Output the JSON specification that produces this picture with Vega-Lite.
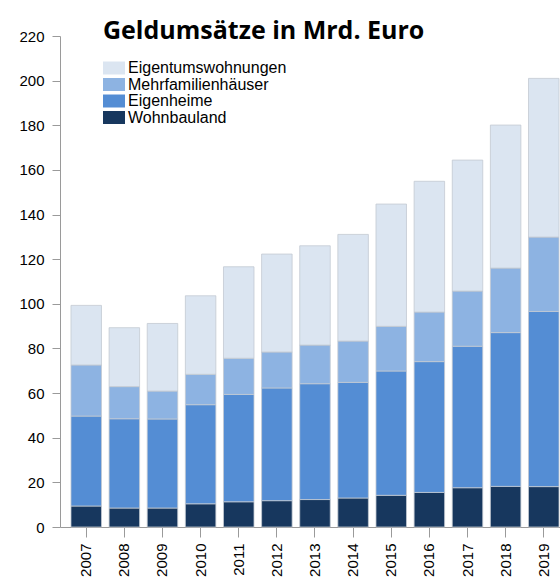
{
  "$schema": "https://vega.github.io/schema/vega-lite/v6.json",
  "width": 500,
  "height": 491,
  "autosize": {"type": "none"},
  "padding": {"left": 60, "top": 36, "right": 0, "bottom": 54},
  "background": "white",
  "title": {
    "text": "Geldumsätze in Mrd. Euro",
    "anchor": "start",
    "frame": "group",
    "orient": "top",
    "font": "Open Sans",
    "fontSize": 25,
    "fontWeight": "bold",
    "color": "black",
    "offset": 0,
    "baseline": "alphabetic",
    "dx": 43,
    "dy": 35
  },
  "datasets": {
    "serien": [
      {"type": "Wohnbauland", "rank": 1},
      {"type": "Eigenheime", "rank": 2},
      {"type": "Mehrfamilienhäuser", "rank": 3},
      {"type": "Eigentumswohnungen", "rank": 4}
    ]
  },
  "data": {
    "values": [
      {"year": "2007", "type": "Wohnbauland", "value": 9.4},
      {"year": "2007", "type": "Eigenheime", "value": 40.3},
      {"year": "2007", "type": "Mehrfamilienhäuser", "value": 22.9},
      {"year": "2007", "type": "Eigentumswohnungen", "value": 26.7},
      {"year": "2008", "type": "Wohnbauland", "value": 8.5},
      {"year": "2008", "type": "Eigenheime", "value": 40.0},
      {"year": "2008", "type": "Mehrfamilienhäuser", "value": 14.4},
      {"year": "2008", "type": "Eigentumswohnungen", "value": 26.4},
      {"year": "2009", "type": "Wohnbauland", "value": 8.5},
      {"year": "2009", "type": "Eigenheime", "value": 39.9},
      {"year": "2009", "type": "Mehrfamilienhäuser", "value": 12.5},
      {"year": "2009", "type": "Eigentumswohnungen", "value": 30.3},
      {"year": "2010", "type": "Wohnbauland", "value": 10.4},
      {"year": "2010", "type": "Eigenheime", "value": 44.4},
      {"year": "2010", "type": "Mehrfamilienhäuser", "value": 13.6},
      {"year": "2010", "type": "Eigentumswohnungen", "value": 35.2},
      {"year": "2011", "type": "Wohnbauland", "value": 11.3},
      {"year": "2011", "type": "Eigenheime", "value": 48.1},
      {"year": "2011", "type": "Mehrfamilienhäuser", "value": 16.2},
      {"year": "2011", "type": "Eigentumswohnungen", "value": 41.0},
      {"year": "2012", "type": "Wohnbauland", "value": 11.8},
      {"year": "2012", "type": "Eigenheime", "value": 50.5},
      {"year": "2012", "type": "Mehrfamilienhäuser", "value": 16.1},
      {"year": "2012", "type": "Eigentumswohnungen", "value": 43.9},
      {"year": "2013", "type": "Wohnbauland", "value": 12.3},
      {"year": "2013", "type": "Eigenheime", "value": 51.9},
      {"year": "2013", "type": "Mehrfamilienhäuser", "value": 17.3},
      {"year": "2013", "type": "Eigentumswohnungen", "value": 44.5},
      {"year": "2014", "type": "Wohnbauland", "value": 13.0},
      {"year": "2014", "type": "Eigenheime", "value": 51.8},
      {"year": "2014", "type": "Mehrfamilienhäuser", "value": 18.5},
      {"year": "2014", "type": "Eigentumswohnungen", "value": 47.8},
      {"year": "2015", "type": "Wohnbauland", "value": 14.2},
      {"year": "2015", "type": "Eigenheime", "value": 55.7},
      {"year": "2015", "type": "Mehrfamilienhäuser", "value": 20.0},
      {"year": "2015", "type": "Eigentumswohnungen", "value": 54.8},
      {"year": "2016", "type": "Wohnbauland", "value": 15.5},
      {"year": "2016", "type": "Eigenheime", "value": 58.6},
      {"year": "2016", "type": "Mehrfamilienhäuser", "value": 22.2},
      {"year": "2016", "type": "Eigentumswohnungen", "value": 58.6},
      {"year": "2017", "type": "Wohnbauland", "value": 17.6},
      {"year": "2017", "type": "Eigenheime", "value": 63.4},
      {"year": "2017", "type": "Mehrfamilienhäuser", "value": 24.7},
      {"year": "2017", "type": "Eigentumswohnungen", "value": 58.7},
      {"year": "2018", "type": "Wohnbauland", "value": 18.2},
      {"year": "2018", "type": "Eigenheime", "value": 68.9},
      {"year": "2018", "type": "Mehrfamilienhäuser", "value": 28.9},
      {"year": "2018", "type": "Eigentumswohnungen", "value": 64.1},
      {"year": "2019", "type": "Wohnbauland", "value": 18.1},
      {"year": "2019", "type": "Eigenheime", "value": 78.5},
      {"year": "2019", "type": "Mehrfamilienhäuser", "value": 33.3},
      {"year": "2019", "type": "Eigentumswohnungen", "value": 71.1}
    ]
  },
  "transform": [
    {"lookup": "type", "from": {"data": {"name": "serien"}, "key": "type", "fields": ["rank"]}}
  ],
  "mark": {"type": "bar", "stroke": "#c3c9d2", "strokeWidth": 0.8},
  "encoding": {
    "x": {
      "field": "year",
      "type": "ordinal",
      "scale": {"paddingInner": 0.2, "paddingOuter": 0.157, "align": 0.917},
      "axis": {
        "title": null,
        "labelAngle": -90,
        "labelFont": "Liberation Sans",
        "labelFontSize": 15,
        "labelColor": "black",
        "labelPadding": 6,
        "tickSize": 10,
        "tickColor": "#9a9a9a",
        "domainColor": "#9a9a9a",
        "grid": false
      }
    },
    "y": {
      "field": "value",
      "type": "quantitative",
      "stack": "zero",
      "scale": {"domain": [0, 220], "nice": false},
      "axis": {
        "title": null,
        "values": [0, 20, 40, 60, 80, 100, 120, 140, 160, 180, 200, 220],
        "labelFont": "Liberation Sans",
        "labelFontSize": 15,
        "labelColor": "black",
        "labelPadding": 8,
        "tickSize": 8,
        "tickColor": "#9a9a9a",
        "domainColor": "#9a9a9a",
        "grid": false
      }
    },
    "order": {"field": "rank", "type": "quantitative", "sort": "ascending"},
    "color": {
      "field": "type",
      "type": "nominal",
      "sort": ["Eigentumswohnungen", "Mehrfamilienhäuser", "Eigenheime", "Wohnbauland"],
      "scale": {
        "domain": ["Eigentumswohnungen", "Mehrfamilienhäuser", "Eigenheime", "Wohnbauland"],
        "range": ["#dbe5f1", "#8db3e2", "#548dd4", "#17375e"]
      },
      "legend": {
        "title": null,
        "orient": "none",
        "legendX": 46,
        "legendY": 24,
        "padding": 0,
        "symbolType": "M-1.69,-1H1.69V1H-1.69Z",
        "symbolSize": 169,
        "symbolStrokeWidth": 0,
        "symbolOpacity": 1,
        "labelFont": "Liberation Sans",
        "labelFontSize": 16,
        "labelColor": "black",
        "labelOffset": 6,
        "rowPadding": 0.5
      }
    }
  },
  "config": {"view": {"stroke": null}}
}
